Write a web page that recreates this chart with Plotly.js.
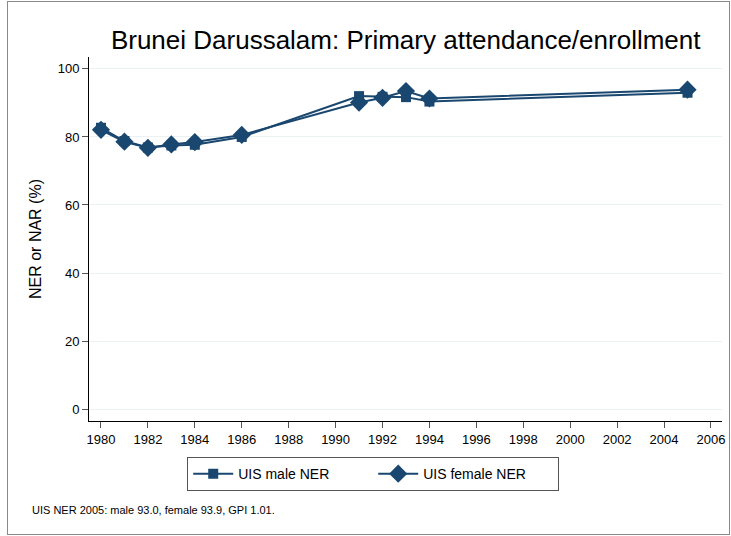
<!DOCTYPE html>
<html>
<head>
<meta charset="utf-8">
<script src="https://cdn.plot.ly/plotly-3.0.1.min.js"></script>
<style>
  body { margin: 0; background: #fff; }
  #frame { position: absolute; left: 7px; top: 1px; width: 721px; height: 532px; border: 1px solid #8a8a8a; pointer-events: none; }
  #chart { width: 731px; height: 536px; }
</style>
</head>
<body>
<div id="chart"></div>
<div id="frame"></div>
<script>
  // years and values
  var years = [1980, 1981, 1982, 1983, 1984, 1986, 1991, 1992, 1993, 1994, 2005];
  var maleNER = [82.7, 78.8, 76.9, 77.5, 77.7, 80.0, 92.0, 91.8, 91.7, 90.4, 93.0];
  var femaleNER = [82.1, 78.6, 76.8, 77.8, 78.5, 80.6, 90.1, 91.5, 93.5, 91.3, 93.9];
  var xTicks = [1980, 1982, 1984, 1986, 1988, 1990, 1992, 1994, 1996, 1998, 2000, 2002, 2004, 2006];
  var yTicks = [0, 20, 40, 60, 80, 100];

  var navy = '#1a476f';

  var data = [
    {
      x: years,
      y: maleNER,
      name: 'UIS male NER',
      mode: 'lines+markers',
      line: { color: navy, width: 2 },
      marker: { symbol: 'square', size: 10, color: navy }
    },
    {
      x: years,
      y: femaleNER,
      name: 'UIS female NER',
      mode: 'lines+markers',
      line: { color: navy, width: 2 },
      marker: { symbol: 'diamond', size: 14, color: navy }
    }
  ];

  var layout = {
    width: 731,
    height: 536,
    paper_bgcolor: 'rgba(0,0,0,0)',
    plot_bgcolor: '#fff',
    font: { family: 'Liberation Sans, Arial, sans-serif', color: '#000', size: 13 },
    margin: { l: 89, r: 9, t: 57, b: 115 },
    title: {
      text: 'Brunei Darussalam: Primary attendance/enrollment',
      font: { size: 26 },
      x: 0.555, xanchor: 'center',
      y: 0.925, yanchor: 'middle'
    },
    xaxis: {
      range: [1979.49, 2006.47],
      tickvals: xTicks,
      showgrid: false,
      zeroline: false,
      showline: true, linecolor: '#000', linewidth: 1,
      ticks: 'outside', ticklen: 6, tickcolor: '#555',
      tickfont: { size: 13 }
    },
    yaxis: {
      range: [-3.5, 103.5],
      tickvals: yTicks,
      showgrid: true, gridcolor: '#eaf2f3', gridwidth: 1,
      zeroline: false,
      showline: true, linecolor: '#000', linewidth: 1,
      ticks: 'outside', ticklen: 6, tickcolor: '#555',
      tickfont: { size: 13 },
      title: { text: 'NER or NAR (%)', font: { size: 16 }, standoff: 12 }
    },
    showlegend: true,
    legend: {
      orientation: 'h',
      x: 0.449, xanchor: 'center',
      y: -0.099, yanchor: 'top',
      bgcolor: '#fff',
      bordercolor: '#555', borderwidth: 1,
      font: { size: 14 },
      entrywidth: 130,
      itemwidth: 40
    },
    annotations: [
      {
        xref: 'paper', yref: 'paper',
        x: -0.093, y: -0.245,
        xanchor: 'left', yanchor: 'middle',
        text: 'UIS NER 2005: male 93.0, female 93.9, GPI 1.01.',
        showarrow: false,
        font: { size: 11 }
      }
    ]
  };

  Plotly.newPlot('chart', data, layout, { displayModeBar: false });
</script>
</body>
</html>
